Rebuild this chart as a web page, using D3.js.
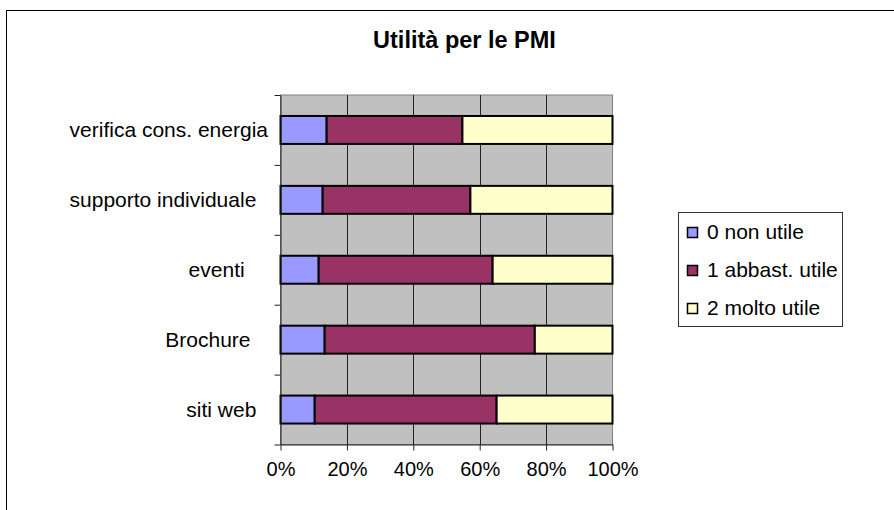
<!DOCTYPE html>
<html>
<head>
<meta charset="utf-8">
<script src="https://cdn.jsdelivr.net/npm/d3@7"></script>
<style>
    body { margin: 0; background: #fff; }
    svg { display: block; font-family: Arial, "Liberation Sans", sans-serif; }
    text { white-space: pre; }
</style>
</head>
<body>
<div class="chart-container"></div>
<script>
// categories from top to bottom (trailing spaces kept as in the source labels)
const categories = ["verifica cons. energia", "supporto individuale  ", "eventi    ", "Brochure   ", "siti web  "];
const seriesNames = ["0 non utile", "1 abbast. utile", "2 molto utile"];
const nonUtile = [13.9, 12.7, 11.5, 13.3, 10.3];
const abbastUtile = [40.9, 44.5, 52.4, 63.3, 54.8];
const moltoUtile = [45.2, 42.8, 36.1, 23.4, 34.9];
const xTicks = [0, 0.2, 0.4, 0.6, 0.8, 1];
const colors = ["#9999ff", "#993366", "#ffffcc"];

const Chart = {
    width: 894,
    height: 510,
    plot: {left: 280.5, right: 612.5, top: 95, bottom: 444.5},
    svg: {},
    load: function() {
        const rows = categories.map((c, i) => ({
            name: c,
            [seriesNames[0]]: nonUtile[i],
            [seriesNames[1]]: abbastUtile[i],
            [seriesNames[2]]: moltoUtile[i]
        }));

        const stacked = d3.stack()
            .keys(seriesNames)
            .offset(d3.stackOffsetExpand)(rows);

        const p = this.plot;

        const x = d3.scaleLinear().domain([0, 1]).range([p.left, p.right]);
        const y = d3.scaleBand()
            .domain(categories)
            .range([p.top, p.bottom])
            .paddingInner(0.6)
            .paddingOuter(0.3);
        const yIdx = d3.scaleLinear().domain([0, categories.length]).range([p.top, p.bottom]);
        const color = d3.scaleOrdinal(seriesNames, colors);

        this.svg = d3.select(".chart-container")
            .append("svg")
            .attr("width", this.width)
            .attr("height", this.height);

        // outer chart border (only top and left edges are in view)
        this.svg.append("rect")
            .attr("x", 6.5).attr("y", 10.5)
            .attr("width", 1000).attr("height", 700)
            .attr("fill", "#fff")
            .attr("stroke", "#000")
            .attr("stroke-width", 1);

        this.svg.append("text")
            .attr("x", 464.5)
            .attr("y", 48)
            .attr("text-anchor", "middle")
            .attr("font-size", 23.5)
            .attr("font-weight", "bold")
            .text("Utilità per le PMI");

        // plot area
        this.svg.append("rect")
            .attr("x", p.left).attr("y", p.top)
            .attr("width", p.right - p.left).attr("height", p.bottom - p.top)
            .attr("fill", "#c0c0c0")
            .attr("stroke", "#808080");

        this.svg.append("g")
            .selectAll("line")
            .data(xTicks.slice(1, -1))
            .join("line")
            .attr("x1", d => Math.round(x(d)) + 0.5)
            .attr("x2", d => Math.round(x(d)) + 0.5)
            .attr("y1", p.top)
            .attr("y2", p.bottom)
            .attr("stroke", "#222");

        this.svg.append("g")
            .selectAll("g")
            .data(stacked)
            .join("g")
            .attr("fill", d => color(d.key))
            .selectAll("rect")
            .data(d => d)
            .join("rect")
            .attr("x", d => x(d[0]))
            .attr("y", d => y(d.data.name))
            .attr("width", d => x(d[1]) - x(d[0]))
            .attr("height", y.bandwidth())
            .attr("stroke", "#000")
            .attr("stroke-width", 2);

        const xAxis = this.svg.append("g")
            .attr("transform", `translate(0,${p.bottom})`)
            .call(d3.axisBottom(x)
                .tickValues(xTicks)
                .tickFormat(d3.format(".0%"))
                .tickSizeInner(6)
                .tickSizeOuter(0)
                .tickPadding(11));

        const yAxis = this.svg.append("g")
            .attr("transform", `translate(${p.left},0)`)
            .call(d3.axisLeft(yIdx)
                .tickValues(d3.range(categories.length + 1))
                .tickFormat("")
                .tickSizeInner(6)
                .tickSizeOuter(0));

        [xAxis, yAxis].forEach(a => {
            a.selectAll("path, line").attr("stroke", "#222");
            a.selectAll("text")
                .attr("fill", "#000")
                .attr("font-size", 20)
                .attr("font-family", "Arial, 'Liberation Sans', sans-serif");
        });

        this.svg.append("g")
            .selectAll("text")
            .data(categories)
            .join("text")
            .attr("x", 268)
            .attr("y", d => y(d) + y.bandwidth() / 2)
            .attr("dy", "0.35em")
            .attr("text-anchor", "end")
            .attr("font-size", 21)
            .text(d => d);

        this.legend(color);
    },
    legend: function(color) {
        const g = this.svg.append("g");

        g.append("rect")
            .attr("x", 678.5).attr("y", 212.5)
            .attr("width", 164).attr("height", 114)
            .attr("fill", "#fff")
            .attr("stroke", "#333");

        const item = g.selectAll("g")
            .data(seriesNames)
            .join("g")
            .attr("transform", (d, i) => `translate(687,${232 + i * 38})`);

        item.append("rect")
            .attr("x", 0.5).attr("y", -4.5)
            .attr("width", 10).attr("height", 10)
            .attr("fill", d => color(d))
            .attr("stroke", "#000")
            .attr("stroke-width", 1.5);

        item.append("text")
            .attr("x", 20)
            .attr("y", 0)
            .attr("dy", "0.35em")
            .attr("font-size", 21)
            .text(d => d);
    }
};

Chart.load();
</script>
</body>
</html>
